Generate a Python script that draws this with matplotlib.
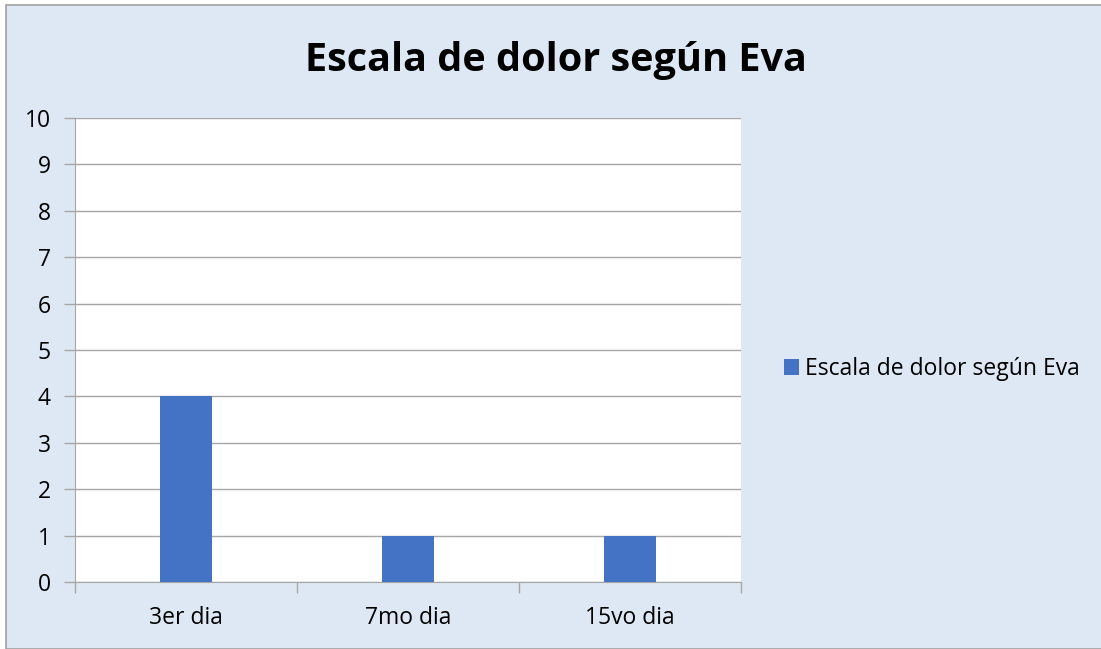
import matplotlib
matplotlib.use("Agg")
import matplotlib.pyplot as plt
from matplotlib.patches import Rectangle
import numpy as np

# data
categories = ["3er dia", "7mo dia", "15vo dia"]
values = [4, 1, 1]
series_name = "Escala de dolor según Eva"
title = "Escala de dolor según Eva"
y_ticks = list(range(0, 11))

plt.rcParams['font.family'] = ['Open Sans', 'DejaVu Sans']

bg = '#DEE8F4'
bar_color = '#4472C4'
grid_color = '#A6A6A6'

fig = plt.figure(figsize=(11.01, 6.49), dpi=100)
fig.patch.set_facecolor('white')

# chart area with thin grey border (right edge falls off the image)
W, H = 1101, 649
frame = Rectangle((6 / W, 0.5 / H), 1.0, 1 - 5.5 / H, transform=fig.transFigure,
                  facecolor=bg, edgecolor='#A0A0A0', linewidth=1.2, zorder=-5)
fig.add_artist(frame)

ax = fig.add_axes([75 / W, 1 - 582 / H, (741 - 75) / W, (582 - 118) / H])
ax.set_facecolor('white')

x = np.arange(len(categories))
ax.bar(x, values, width=0.23, color=bar_color, zorder=3, label=series_name)

ax.set_xlim(-0.5, len(categories) - 0.5)
ax.set_ylim(0, 10)
ax.set_yticks(y_ticks)
ax.set_yticklabels([str(t) for t in y_ticks])
ax.yaxis.grid(True, color=grid_color, linewidth=1.0, zorder=0)
ax.set_axisbelow(True)

# category ticks between groups
ax.set_xticks(x)
ax.set_xticklabels(categories)
ax.set_xticks(np.arange(len(categories) + 1) - 0.5, minor=True)
ax.tick_params(axis='x', which='major', length=0, pad=17, labelsize=16.5)
ax.tick_params(axis='x', which='minor', length=8, color=grid_color, width=1.0)
ax.tick_params(axis='y', length=8, color=grid_color, width=1.0, pad=9.5, labelsize=16.5)

for side in ['top', 'right']:
    ax.spines[side].set_visible(False)
ax.spines['left'].set_color(grid_color)
ax.spines['bottom'].set_color(grid_color)

fig.text(556 / W, 1 - 60 / H, title, fontsize=28.5, fontweight='bold',
         ha='center', va='center', color='black')

leg = fig.legend(loc='center left', bbox_to_anchor=(763 / W, 1 - 369 / H),
                 frameon=False, fontsize=16.5, handlelength=0.65, handleheight=0.65,
                 handletextpad=0.3)

fig.savefig('out.png', dpi=100, facecolor=fig.get_facecolor())
